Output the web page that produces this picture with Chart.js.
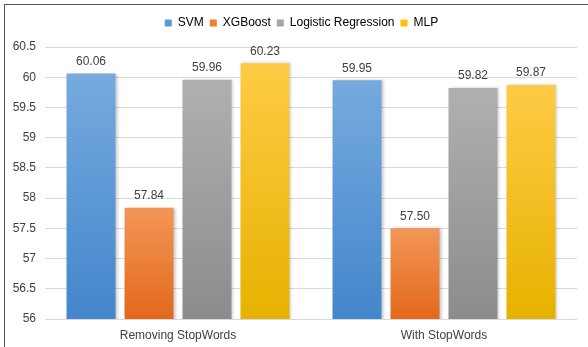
<!DOCTYPE html>
<html>
<head>
<meta charset="utf-8">
<script src="https://cdn.jsdelivr.net/npm/chart.js@4/dist/chart.umd.min.js"></script>
<style>
  html, body { margin: 0; padding: 0; background: #fff; }
  #wrap { position: relative; width: 588px; height: 347px; overflow: hidden; }
  #frame { position: absolute; left: 4px; top: 4px; width: 600px; height: 360px;
           border-left: 1.5px solid #555; border-top: 1.5px solid #555; }
  #myChart { position: absolute; left: 0; top: 0; }
</style>
</head>
<body>
<div id="wrap">
  <div id="frame"></div>
  <canvas id="myChart" width="588" height="347"></canvas>
</div>
<script>
const categories = ['Removing StopWords', 'With StopWords'];
const seriesNames = ['SVM', 'XGBoost', 'Logistic Regression', 'MLP'];
const svmValues = [60.06, 59.95];
const xgbValues = [57.84, 57.50];
const lrValues = [59.96, 59.82];
const mlpValues = [60.23, 59.87];
const yMin = 56;
const yMax = 60.5;
const yStep = 0.5;

const legendColors = ['#5B9BD5', '#ED7D31', '#A5A5A5', '#FFC000'];
const topColors = ['#76AADF', '#F29658', '#B0B0B0', '#FFCB45'];
const bottomColors = ['#4386CB', '#E3681B', '#8C8C8C', '#E6B200'];

const ctx = document.getElementById('myChart');

// gradient from top of each bar down to the base
function barGradient(c) {
  const chart = c.chart;
  const i = c.datasetIndex;
  if (!chart.chartArea || !chart.scales.y) return legendColors[i];
  const yTop = chart.scales.y.getPixelForValue(c.raw);
  const yBot = chart.chartArea.bottom;
  const g = chart.ctx.createLinearGradient(0, yTop, 0, yBot);
  g.addColorStop(0, topColors[i]);
  g.addColorStop(1, bottomColors[i]);
  return g;
}

const valueLabels = {
  id: 'valueLabels',
  afterDatasetsDraw(chart) {
    const c = chart.ctx;
    c.save();
    c.font = '12px "Liberation Sans", Arial, sans-serif';
    c.fillStyle = '#404040';
    c.textAlign = 'center';
    c.textBaseline = 'middle';
    chart.data.datasets.forEach((ds, i) => {
      chart.getDatasetMeta(i).data.forEach((bar, j) => {
        c.fillText(ds.data[j].toFixed(2), bar.x, bar.y - 12);
      });
    });
    c.restore();
  }
};

const barShadow = {
  id: 'barShadow',
  beforeDatasetsDraw(chart) {
    const c = chart.ctx;
    c.save();
    c.shadowColor = 'rgba(0,0,0,0.22)';
    c.shadowBlur = 3;
    c.shadowOffsetX = 2;
    c.shadowOffsetY = 0;
  },
  afterDatasetsDraw(chart) {
    chart.ctx.restore();
  }
};

// extra room between legend and plot, and centre legend over the plot
const legendGap = {
  id: 'legendGap',
  beforeLayout(chart) {
    const lg = chart.legend;
    if (lg && !lg._gapPatched) {
      const fit = lg.fit;
      lg.fit = function () { fit.call(this); this.height += 8; };
      lg._gapPatched = true;
    }
  },
  afterLayout(chart) {
    const lg = chart.legend;
    if (lg) { lg.left += 9; lg.right += 9; }
  }
};

const allValues = [svmValues, xgbValues, lrValues, mlpValues];

const myChart = new Chart(ctx, {
  type: 'bar',
  data: {
    labels: categories,
    datasets: seriesNames.map((name, i) => ({
      label: name,
      data: allValues[i],
      backgroundColor: barGradient,
      borderWidth: 0,
      categoryPercentage: 0.872,
      barPercentage: 0.845
    }))
  },
  options: {
    responsive: false,
    animation: false,
    layout: { padding: { left: 8, right: 11, top: 11, bottom: 0 } },
    plugins: {
      legend: {
        position: 'top',
        labels: {
          boxWidth: 7,
          boxHeight: 7,
          padding: 6,
          color: '#404040',
          font: { family: '"Liberation Sans", Arial, sans-serif', size: 12 },
          generateLabels(chart) {
            return seriesNames.map((n, i) => ({
              text: n,
              fillStyle: legendColors[i],
              strokeStyle: legendColors[i],
              lineWidth: 0,
              datasetIndex: i
            }));
          }
        }
      },
      tooltip: { enabled: false }
    },
    scales: {
      x: {
        afterFit(scale) { scale.height = 28; },
        grid: { display: false, drawTicks: false },
        border: { display: false },
        ticks: {
          padding: 9,
          color: '#404040',
          font: { family: '"Liberation Sans", Arial, sans-serif', size: 12 }
        }
      },
      y: {
        min: yMin,
        max: yMax,
        afterFit(scale) { scale.width = 37; },
        grid: { color: '#d9d9d9', lineWidth: 1, drawTicks: false },
        border: { display: false },
        ticks: {
          stepSize: yStep,
          padding: 9,
          color: '#404040',
          font: { family: '"Liberation Sans", Arial, sans-serif', size: 12 },
          callback: v => String(Math.round(v * 10) / 10)
        }
      }
    }
  },
  plugins: [barShadow, valueLabels, legendGap]
});
</script>
</body>
</html>
